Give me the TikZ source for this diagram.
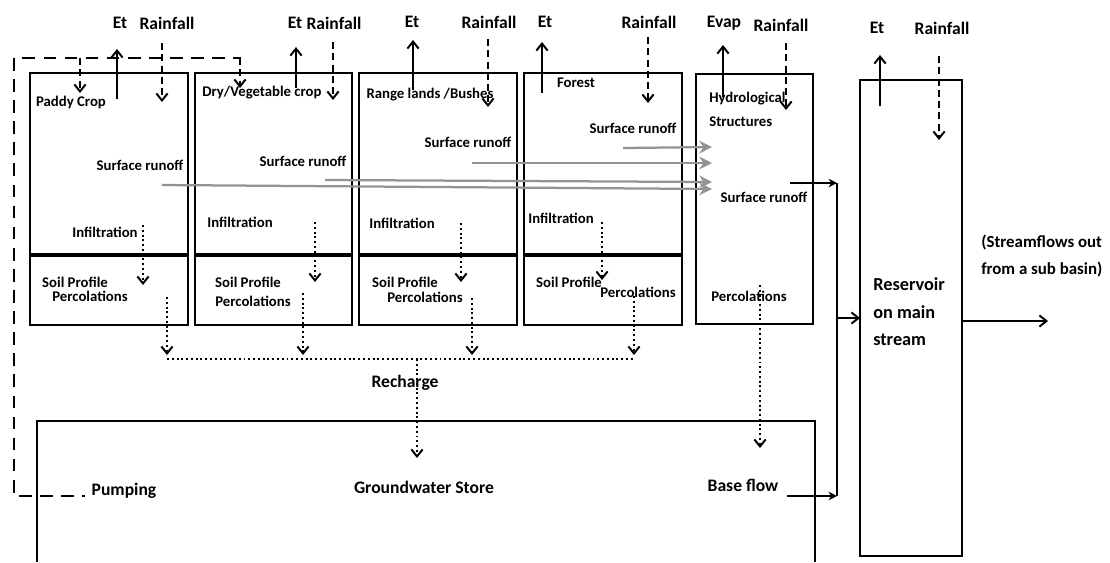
\documentclass[tikz,border=0pt]{standalone}
\usepackage{fontspec}
\setmainfont{Carlito}
\usetikzlibrary{arrows.meta}
\tikzset{
  every node/.style={inner sep=0pt, font=\bfseries\fontsize{10.5}{12}\selectfont},
  toplabel/.style={font=\bfseries\fontsize{12.5}{14}\selectfont},
  storelabel/.style={font=\bfseries\fontsize{12.5}{14}\selectfont},
  bigtext/.style={font=\bfseries\fontsize{13}{19.5}\selectfont, align=left, anchor=west},
  boxline/.style={line width=1.7pt},
  flux/.style={line width=1.4pt, -{Straight Barb[length=5pt,width=8pt]}},
  rain/.style={flux, dash pattern=on 5pt off 3pt},
  seep/.style={line width=1.4pt, dash pattern=on 1.4pt off 2pt, -{Straight Barb[length=5pt,width=8pt]}},
  runoff/.style={line width=1.6pt, gray!85, -{Stealth[length=9pt,width=9pt]}},
  pump/.style={line width=1.8pt, dash pattern=on 9pt off 6pt},
}
\begin{document}
\begin{tikzpicture}[x=0.025cm, y=-0.025cm]
  \useasboundingbox (0,0) rectangle (1110,562);
  % boxes
  \draw[boxline] (30,73) rectangle (188,325);
  \draw[boxline] (195,73) rectangle (352,325);
  \draw[boxline] (359,73) rectangle (517,325);
  \draw[boxline] (524,73) rectangle (682,325);
  \foreach \a/\b in {30/188, 195/352, 359/517, 524/682}
    \draw[line width=3.2pt] (\a,255) -- (\b,255);
  \draw[boxline] (696,74) rectangle (813,324);
  \draw[boxline] (860,80) rectangle (962,556);
  \draw[boxline] (37,562) -- (37,421) -- (815,421) -- (815,562);
  % labels
  \node[toplabel] (et1) at (120,23) {Et};
  \node[toplabel] (rain1) at (167,23) {Rainfall};
  \node[toplabel] (et2) at (295,23) {Et};
  \node[toplabel] (rain2) at (334,23) {Rainfall};
  \node[toplabel] (et3) at (412,22) {Et};
  \node[toplabel] (rain3) at (489,22) {Rainfall};
  \node[toplabel] (et4) at (545,22) {Et};
  \node[toplabel] (rain4) at (649,22) {Rainfall};
  \node[toplabel] (evap) at (724,23) {Evap};
  \node[toplabel] (rain5) at (781,25) {Rainfall};
  \node[toplabel] (et6) at (877,28) {Et};
  \node[toplabel] (rain6) at (942,28) {Rainfall};
  \node (paddy) at (71,102) {Paddy Crop};
  \node (dry) at (262,93) {Dry/Vegetable crop};
  \node (range) at (430,95) {Range lands /Bushes};
  \node (forest) at (576,83) {Forest};
  \node[anchor=west] (hydro1) at (709,99) {Hydrological};
  \node[anchor=west] (hydro2) at (709,122) {Structures};
  \node (sr1) at (140,165) {Surface runoff};
  \node (sr2) at (303,161) {Surface runoff};
  \node (sr3) at (468,142) {Surface runoff};
  \node (sr4) at (633,128) {Surface runoff};
  \node (sr5) at (764,197) {Surface runoff};
  \node (inf1) at (105,232) {Infiltration};
  \node (inf2) at (240,222) {Infiltration};
  \node (inf3) at (402,223) {Infiltration};
  \node (inf4) at (561,218) {Infiltration};
  \node (sp1) at (75,282) {Soil Profile};
  \node (sp2) at (248,282) {Soil Profile};
  \node (sp3) at (405,282) {Soil Profile};
  \node (sp4) at (569,282) {Soil Profile};
  \node (pc1) at (90,296) {Percolations};
  \node (pc2) at (253,301) {Percolations};
  \node (pc3) at (425,297) {Percolations};
  \node (pc4) at (638,292) {Percolations};
  \node (pc5) at (749,296) {Percolations};
  \node[storelabel] (recharge) at (405,383) {Recharge};
  \node[storelabel] (pumping) at (124,491) {Pumping};
  \node[storelabel] (gw) at (424,487) {Groundwater Store};
  \node[storelabel] (base) at (743,485) {Base flow};
  \node[bigtext] (res) at (873,312) {Reservoir\\on main\\stream};
  \node[bigtext, font=\bfseries\fontsize{12}{19.5}\selectfont] (out) at (981,256) {(Streamflows out\\from a sub basin)};
  % vertical fluxes
  \foreach \x/\a/\b in {117/99/49, 296/88/47, 413/90/40, 542/93/42, 723/97/45, 880/106/55}
    \draw[flux] (\x,\a) -- (\x,\b);
  \foreach \x/\a/\b in {162/43/102, 333/42/100, 488/39/107, 648/37/103, 786/43/110, 939/56/140}
    \draw[rain] (\x,\a) -- (\x,\b);
  \foreach \x/\a/\b in {143/225/285, 315/222/282, 461/223/282, 602/222/280}
    \draw[seep] (\x,\a) -- (\x,\b);
  \foreach \x/\a in {167/297, 303/293, 472/298, 634/296}
    \draw[seep] (\x,\a) -- (\x,355);
  \draw[line width=1.4pt, dash pattern=on 1.4pt off 2pt] (167,359) -- (634,359);
  \draw[seep] (417,359) -- (417,458);
  \draw[seep] (760,285) -- (760,448);
  % surface runoff
  \draw[runoff] (162,185) -- (712,189);
  \draw[runoff] (325,180) -- (712,182);
  \draw[runoff] (472,163) -- (712,163);
  \draw[runoff] (623,148) -- (712,147);
  % stream
  \draw[line width=1.4pt, -{Stealth[length=6pt,width=6pt]}] (790,183) -- (837,183);
  \draw[line width=1.4pt] (837,183) -- (837,496);
  \draw[line width=1.4pt, -{Stealth[length=6pt,width=6pt]}] (787,496) -- (837,496);
  \draw[flux] (837,318) -- (860,318);
  \draw[flux] (962,321) -- (1048,321);
  % pumping
  \draw[pump] (240,64) -- (240,58) -- (14,58) -- (14,496) -- (85,496);
  \draw[rain] (80,58) -- (80,93);
  \draw[rain] (240,58) -- (240,88);
\end{tikzpicture}
\end{document}
